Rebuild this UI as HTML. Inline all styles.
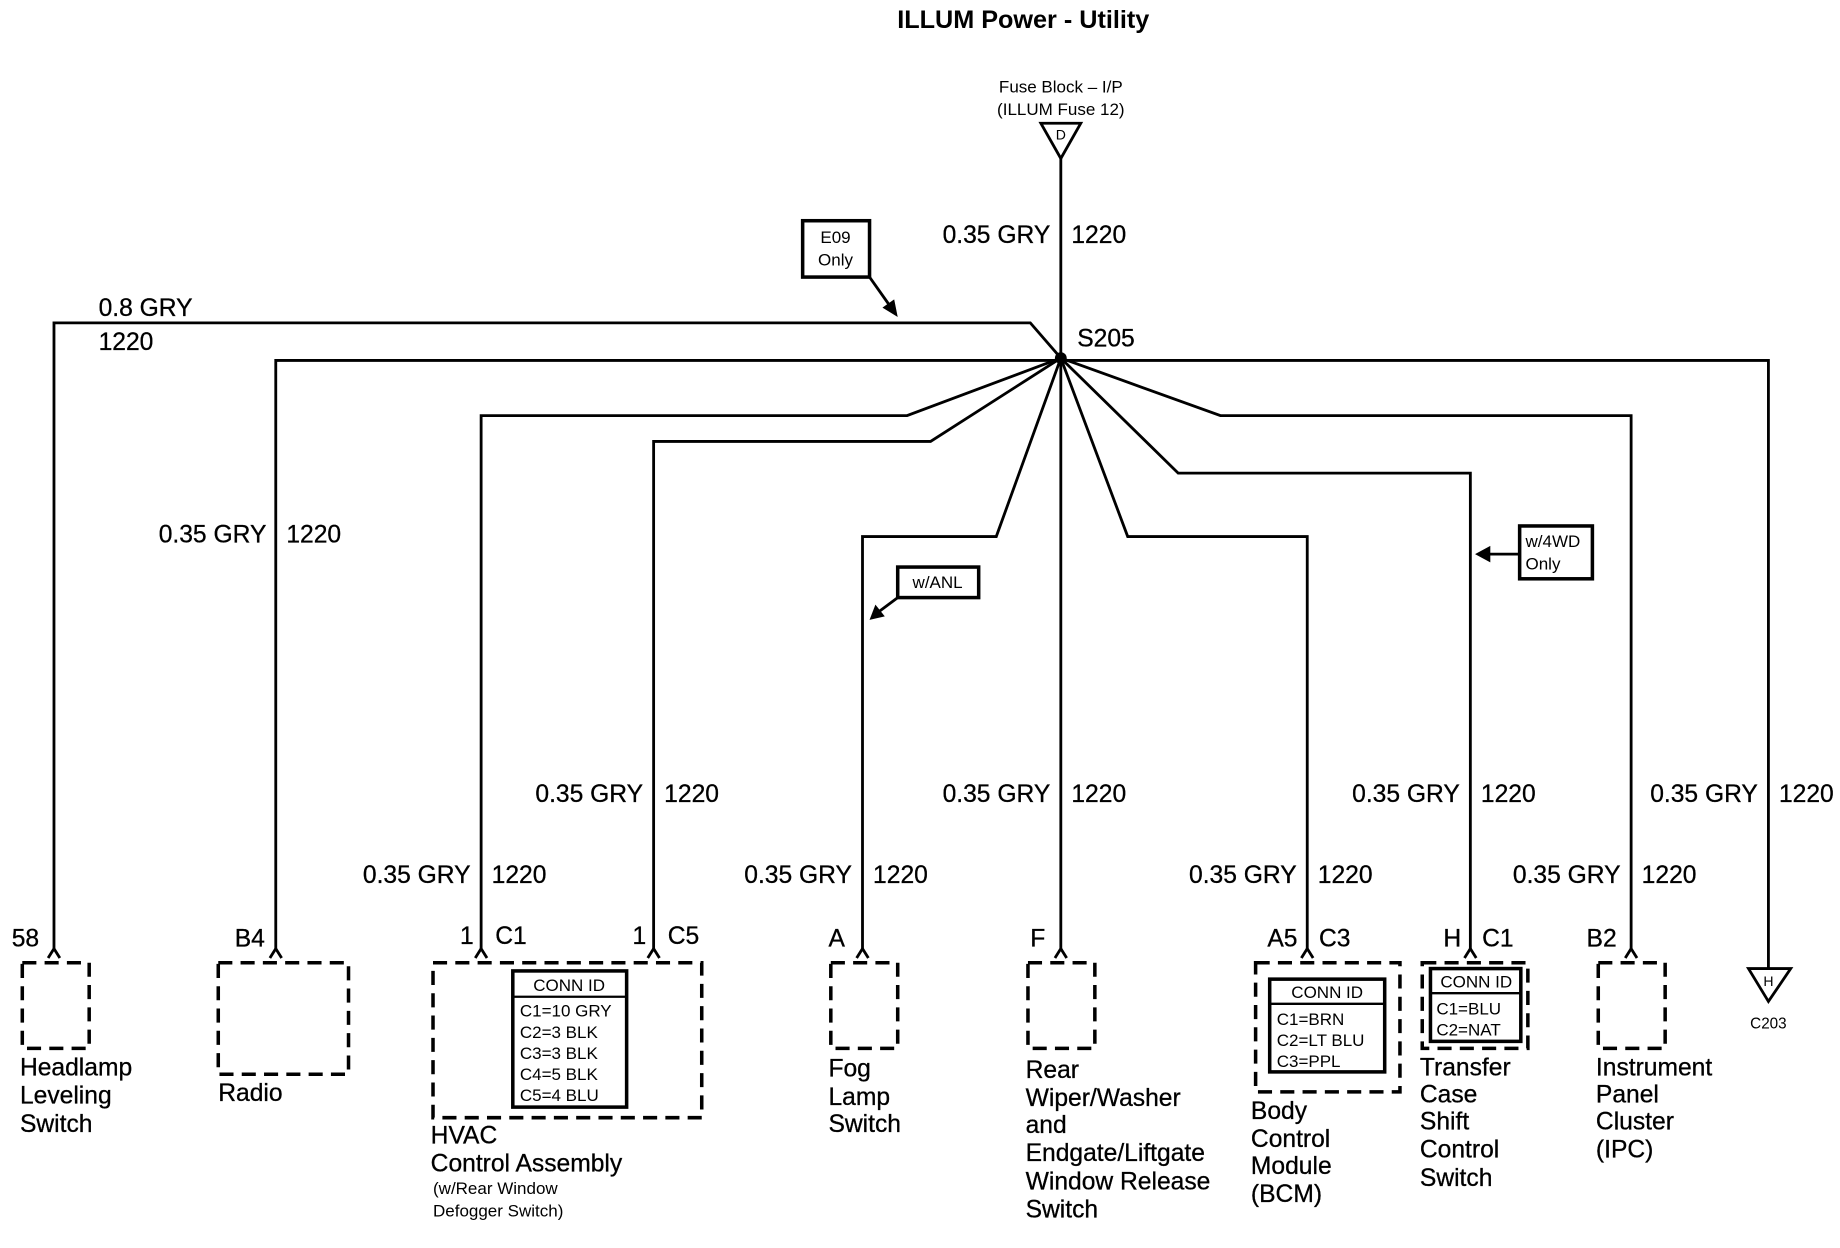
<!DOCTYPE html>
<html><head><meta charset="utf-8"><style>
html,body{margin:0;padding:0;background:#fff}
svg{display:block}
text{font-family:"Liberation Sans",Arial,sans-serif;fill:#000}
.l{font-size:21px;stroke:#000;stroke-width:0.25}
.s{font-size:14.5px}
.w{stroke:#000;stroke-width:2.4;fill:none}
.d{stroke:#000;stroke-width:3;fill:none;stroke-dasharray:12,7}
.b{stroke:#000;stroke-width:3;fill:#fff}
</style></head><body>
<svg width="1840" height="1248" viewBox="0 0 1568 1063" preserveAspectRatio="none" xmlns="http://www.w3.org/2000/svg">
<text x="872" y="24" text-anchor="middle" font-size="21.5" font-weight="bold">ILLUM Power - Utility</text>
<text x="904" y="79" text-anchor="middle" class="s">Fuse Block – I/P</text>
<text x="904" y="98" text-anchor="middle" class="s">(ILLUM Fuse 12)</text>
<polygon points="887,105 921,105 904,135" class="w"/>
<text x="904" y="119" text-anchor="middle" font-size="12">D</text>
<g class="w">
<line x1="904" y1="135" x2="904" y2="808"/>
<polyline points="904,305 878,275 46,275 46,808"/>
<polyline points="904,307 235,307 235,808"/>
<polyline points="904,305 773,354 410,354 410,808"/>
<polyline points="904,305 793,376 557,376 557,808"/>
<polyline points="904,305 849,457 735,457 735,808"/>
<polyline points="904,305 961,457 1114,457 1114,808"/>
<polyline points="904,305 1004,403 1253,403 1253,808"/>
<polyline points="904,305 1040,354 1390,354 1390,808"/>
<polyline points="904,307 1507,307 1507,825"/>
</g>
<circle cx="904" cy="305" r="5"/>
<text x="918" y="295" class="l">S205</text>
<g class="w">
<polyline points="41,816 46,808 51,816"/><polyline points="230,816 235,808 240,816"/>
<polyline points="405,816 410,808 415,816"/><polyline points="552,816 557,808 562,816"/>
<polyline points="730,816 735,808 740,816"/><polyline points="899,816 904,808 909,816"/>
<polyline points="1109,816 1114,808 1119,816"/><polyline points="1248,816 1253,808 1258,816"/>
<polyline points="1385,816 1390,808 1395,816"/>
</g>
<g class="l">
<text x="895" y="207" text-anchor="end">0.35 GRY</text><text x="913" y="207">1220</text>
<text x="84" y="269">0.8 GRY</text><text x="84" y="298">1220</text>
<text x="227" y="462" text-anchor="end">0.35 GRY</text><text x="244" y="462">1220</text>
<text x="401" y="752" text-anchor="end">0.35 GRY</text><text x="419" y="752">1220</text>
<text x="548" y="683" text-anchor="end">0.35 GRY</text><text x="566" y="683">1220</text>
<text x="726" y="752" text-anchor="end">0.35 GRY</text><text x="744" y="752">1220</text>
<text x="895" y="683" text-anchor="end">0.35 GRY</text><text x="913" y="683">1220</text>
<text x="1105" y="752" text-anchor="end">0.35 GRY</text><text x="1123" y="752">1220</text>
<text x="1244" y="683" text-anchor="end">0.35 GRY</text><text x="1262" y="683">1220</text>
<text x="1381" y="752" text-anchor="end">0.35 GRY</text><text x="1399" y="752">1220</text>
<text x="1498" y="683" text-anchor="end">0.35 GRY</text><text x="1516" y="683">1220</text>
<text x="10" y="806">58</text><text x="200" y="806">B4</text>
<text x="392" y="804">1</text><text x="422" y="804">C1</text>
<text x="539" y="804">1</text><text x="569" y="804">C5</text>
<text x="706" y="806">A</text><text x="878" y="806">F</text>
<text x="1080" y="806">A5</text><text x="1124" y="806">C3</text>
<text x="1230" y="806">H</text><text x="1263" y="806">C1</text>
<text x="1352" y="806">B2</text>
</g>
<rect x="19" y="820" width="57" height="73" class="d"/>
<rect x="186" y="820" width="111" height="95" class="d"/>
<rect x="369" y="820" width="229" height="132" class="d"/>
<rect x="708" y="820" width="57" height="73" class="d"/>
<rect x="876" y="820" width="57" height="73" class="d"/>
<rect x="1070" y="820" width="123" height="110" class="d"/>
<rect x="1212" y="820" width="90" height="73" class="d"/>
<rect x="1362" y="820" width="57" height="73" class="d"/>
<rect x="437" y="827" width="97" height="116" class="b" stroke-width="2.5"/>
<line x1="437" y1="849" x2="534" y2="849" stroke="#000" stroke-width="2"/>
<g class="s">
<text x="485" y="844" text-anchor="middle">CONN ID</text>
<text x="443" y="866">C1=10 GRY</text><text x="443" y="884">C2=3 BLK</text>
<text x="443" y="902">C3=3 BLK</text><text x="443" y="920">C4=5 BLK</text><text x="443" y="938">C5=4 BLU</text>
</g>
<rect x="1082" y="834" width="98" height="79" class="b" stroke-width="2.5"/>
<line x1="1082" y1="855" x2="1180" y2="855" stroke="#000" stroke-width="2"/>
<g class="s">
<text x="1131" y="850" text-anchor="middle">CONN ID</text>
<text x="1088" y="873">C1=BRN</text><text x="1088" y="891">C2=LT BLU</text><text x="1088" y="909">C3=PPL</text>
</g>
<rect x="1219" y="825" width="77" height="62" class="b" stroke-width="2.5"/>
<line x1="1219" y1="846" x2="1296" y2="846" stroke="#000" stroke-width="2"/>
<g class="s">
<text x="1258" y="841" text-anchor="middle">CONN ID</text>
<text x="1224" y="864">C1=BLU</text><text x="1224" y="882">C2=NAT</text>
</g>
<polygon points="1490,825 1526,825 1507,853" class="w"/>
<text x="1507" y="840" text-anchor="middle" font-size="12">H</text>
<text x="1507" y="876" text-anchor="middle" font-size="13">C203</text>
<g class="l">
<text x="17" y="916">Headlamp</text><text x="17" y="940">Leveling</text><text x="17" y="964">Switch</text>
<text x="186" y="938">Radio</text>
<text x="367" y="974">HVAC</text><text x="367" y="998">Control Assembly</text>
<text x="706" y="917">Fog</text><text x="706" y="941">Lamp</text><text x="706" y="964">Switch</text>
<text x="874" y="918">Rear</text><text x="874" y="942">Wiper/Washer</text><text x="874" y="965">and</text>
<text x="874" y="989">Endgate/Liftgate</text><text x="874" y="1013">Window Release</text><text x="874" y="1037">Switch</text>
<text x="1066" y="953">Body</text><text x="1066" y="977">Control</text><text x="1066" y="1000">Module</text><text x="1066" y="1024">(BCM)</text>
<text x="1210" y="916">Transfer</text><text x="1210" y="939">Case</text><text x="1210" y="962">Shift</text><text x="1210" y="986">Control</text><text x="1210" y="1010">Switch</text>
<text x="1360" y="916">Instrument</text><text x="1360" y="939">Panel</text><text x="1360" y="962">Cluster</text><text x="1360" y="986">(IPC)</text>
</g>
<text x="369" y="1017" class="s">(w/Rear Window</text><text x="369" y="1036" class="s">Defogger Switch)</text>
<rect x="684" y="188" width="57" height="48" class="b"/>
<text x="712" y="207" text-anchor="middle" class="s">E09</text><text x="712" y="226" text-anchor="middle" class="s">Only</text>
<line x1="741" y1="236" x2="758" y2="260" class="w"/><polygon points="765,270 752,262 762,255"/>
<rect x="765" y="483" width="69" height="26" class="b"/>
<text x="799" y="501" text-anchor="middle" class="s">w/ANL</text>
<line x1="765" y1="509" x2="749" y2="521" class="w"/><polygon points="741,528 746,515 754,525"/>
<rect x="1295" y="448" width="62" height="45" class="b"/>
<text x="1300" y="466" class="s">w/4WD</text><text x="1300" y="485" class="s">Only</text>
<line x1="1295" y1="472" x2="1268" y2="472" class="w"/><polygon points="1257,472 1270,465 1270,479"/>
</svg>
</body></html>
